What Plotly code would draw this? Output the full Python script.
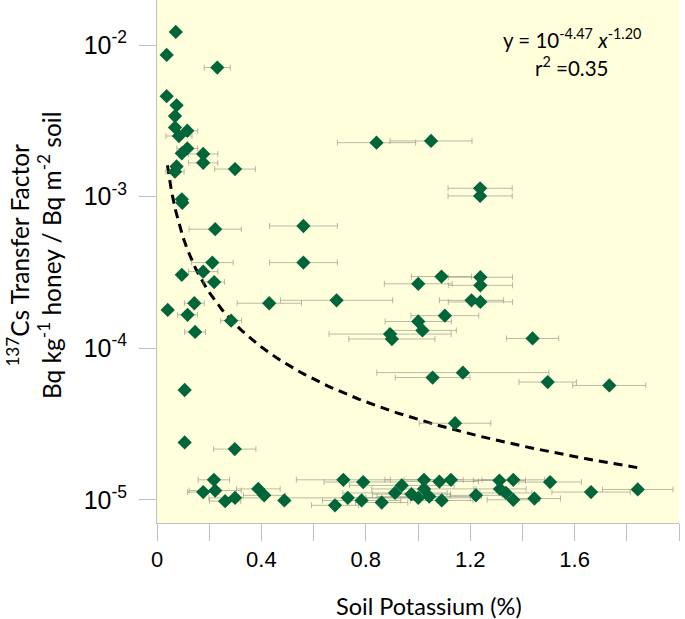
import plotly.graph_objects as go

# Soil potassium (%) for each honey sample
potassium = [
    0.072, 0.037, 0.231, 0.037, 0.075, 0.069, 0.069, 0.116, 0.084, 0.841,
    1.050, 0.116, 0.095, 0.177, 0.177, 0.075, 0.069, 0.299, 1.238, 1.238,
    0.095, 0.097, 0.223, 0.561, 0.212, 0.561, 0.095, 0.177, 0.219, 1.090,
    1.239, 1.001, 1.239, 1.205, 1.239, 0.143, 0.430, 0.688, 0.041, 0.117,
    1.103, 0.284, 1.001, 1.017, 0.146, 0.893, 0.900, 1.439, 1.172, 1.056,
    1.497, 1.733, 0.106, 1.142, 0.106, 0.298,
    0.218, 0.177, 0.223, 0.261, 0.299, 0.388, 0.411, 0.488, 0.714, 0.790,
    0.682, 0.731, 0.784, 0.861, 0.912, 0.938, 0.975, 1.001, 1.023, 1.082,
    1.126, 1.023, 1.043, 1.091, 1.222, 1.312, 1.365, 1.506, 1.314, 1.337,
    1.365, 1.446, 1.663, 1.842,
]

# 137Cs transfer factor (Bq/kg honey per Bq/m2 soil)
transfer_factor = [
    1.22e-2, 8.6e-3, 7.1e-3, 4.6e-3, 4.0e-3, 3.4e-3, 2.86e-3, 2.72e-3, 2.51e-3, 2.27e-3,
    2.33e-3, 2.08e-3, 1.93e-3, 1.91e-3, 1.67e-3, 1.58e-3, 1.46e-3, 1.52e-3, 1.135e-3, 1.01e-3,
    9.6e-4, 9.1e-4, 6.1e-4, 6.4e-4, 3.67e-4, 3.67e-4, 3.05e-4, 3.2e-4, 2.73e-4, 2.97e-4,
    2.94e-4, 2.66e-4, 2.6e-4, 2.07e-4, 2.02e-4, 1.98e-4, 1.98e-4, 2.07e-4, 1.79e-4, 1.66e-4,
    1.64e-4, 1.52e-4, 1.5e-4, 1.31e-4, 1.28e-4, 1.24e-4, 1.15e-4, 1.16e-4, 6.9e-5, 6.4e-5,
    5.98e-5, 5.68e-5, 5.3e-5, 3.2e-5, 2.39e-5, 2.16e-5,
    1.355e-5, 1.125e-5, 1.15e-5, 9.8e-6, 1.03e-5, 1.18e-5, 1.07e-5, 9.9e-6, 1.355e-5, 1.31e-5,
    9.2e-6, 1.03e-5, 9.9e-6, 9.6e-6, 1.11e-5, 1.245e-5, 1.09e-5, 1.03e-5, 1.355e-5, 1.32e-5,
    1.355e-5, 1.18e-5, 1.05e-5, 9.9e-6, 1.07e-5, 1.34e-5, 1.355e-5, 1.31e-5, 1.18e-5, 1.11e-5,
    1.0e-5, 1.02e-5, 1.125e-5, 1.17e-5,
]

# Horizontal error (± soil potassium %)
potassium_err = [
    0, 0, 0.05, 0, 0, 0, 0, 0.04, 0.05, 0.15,
    0.157, 0.04, 0, 0.056, 0.056, 0, 0.035, 0.078, 0.123, 0.123,
    0, 0, 0.1, 0.13, 0.08, 0.13, 0, 0.056, 0.04, 0.115,
    0.123, 0.13, 0.123, 0.123, 0.123, 0.038, 0.123, 0.215, 0, 0.038,
    0.13, 0.04, 0.127, 0.13, 0.04, 0.234, 0.165, 0.1, 0.33, 0.143,
    0.11, 0.14, 0, 0.137, 0, 0.081,
    0.06, 0.06, 0.1, 0.06, 0.1, 0.084, 0.08, 0, 0.18, 0.15,
    0.09, 0.25, 0.15, 0.1, 0.2, 0.2, 0.15, 0.2, 0.15, 0.15,
    0.18, 0.2, 0.2, 0.12, 0.1, 0.1, 0.12, 0.12, 0.1, 0.1,
    0.1, 0.1, 0.15, 0.135,
]

# Power-law fit shown on the chart: y = 10^a * x^b
fit_log_coef = -4.47
fit_exponent = -1.20
fit_x = [0.04 + i * (1.84 - 0.04) / 120 for i in range(121)]
fit_y = [10 ** fit_log_coef * xv ** fit_exponent for xv in fit_x]

x_tickvals = [0, 0.2, 0.4, 0.6, 0.8, 1.0, 1.2, 1.4, 1.6, 1.8, 2.0]
x_ticktext = ["0", "", "0.4", "", "0.8", "", "1.2", "", "1.6", "", "2"]
y_tickvals = [1e-5, 1e-4, 1e-3, 1e-2]
y_ticktext = ["10<sup>-5</sup>", "10<sup>-4</sup>", "10<sup>-3</sup>", "10<sup>-2</sup>"]

fig = go.Figure()

fig.add_trace(go.Scatter(
    x=fit_x, y=fit_y, mode="lines",
    line=dict(color="black", width=3, dash="9px,6px"),
    hoverinfo="skip", showlegend=False,
))

fig.add_trace(go.Scatter(
    x=potassium, y=transfer_factor, mode="markers",
    marker=dict(symbol="diamond", size=11, color="#00663a", line=dict(width=0)),
    error_x=dict(type="data", array=potassium_err, visible=True,
                 color="rgba(140,140,130,0.6)", thickness=1, width=3),
    showlegend=False,
))

font_body = "Lato, 'Open Sans', sans-serif"
font_ticks = "'Liberation Sans', Arial, sans-serif"

fig.update_layout(
    width=685, height=619,
    margin=dict(l=157, r=6, t=0, b=96),
    paper_bgcolor="white",
    plot_bgcolor="#FFFFDC",
    showlegend=False,
    xaxis=dict(
        range=[0, 2], tickmode="array", tickvals=x_tickvals, ticktext=x_ticktext,
        ticks="outside", ticklen=17, tickcolor="#BFBFBF", tickwidth=1,
        showline=True, linecolor="#BFBFBF", linewidth=1,
        showgrid=False, zeroline=False,
        tickfont=dict(family=font_ticks, size=22, color="black"),
    ),
    yaxis=dict(
        type="log", range=[-5.153, -1.703], tickmode="array",
        tickvals=y_tickvals, ticktext=y_ticktext,
        ticks="outside", ticklen=17, tickcolor="#BFBFBF", tickwidth=1,
        showline=True, linecolor="#BFBFBF", linewidth=1,
        showgrid=False, zeroline=False, ticklabelstandoff=7,
        tickfont=dict(family=font_ticks, size=25, color="black"),
    ),
    annotations=[
        dict(text="<sup>137</sup>Cs Transfer Factor<br>Bq kg<sup>-1</sup> honey / Bq m<sup>-2</sup> soil",
             xref="paper", yref="paper", x=-0.236, y=0.512, xanchor="center", yanchor="middle",
             textangle=-90, showarrow=False,
             font=dict(family=font_body, size=24.5, color="black")),
        dict(text="Soil Potassium (%)", xref="paper", yref="paper",
             x=0.521, y=-0.159, xanchor="center", yanchor="middle", showarrow=False,
             font=dict(family=font_body, size=23.5, color="black")),
        dict(text="y = 10<sup>-4.47</sup> <i>x</i><sup>-1.20</sup>", xref="paper", yref="paper",
             x=0.795, y=0.927, xanchor="center", yanchor="middle", showarrow=False,
             font=dict(family=font_body, size=20.5, color="black")),
        dict(text="r<sup>2</sup> =0.35", xref="paper", yref="paper",
             x=0.795, y=0.872, xanchor="center", yanchor="middle", showarrow=False,
             font=dict(family=font_body, size=20.5, color="black")),
    ],
)

fig.write_html("out.html", config={"displayModeBar": False},
               post_script="document.body.style.margin='0px';")
